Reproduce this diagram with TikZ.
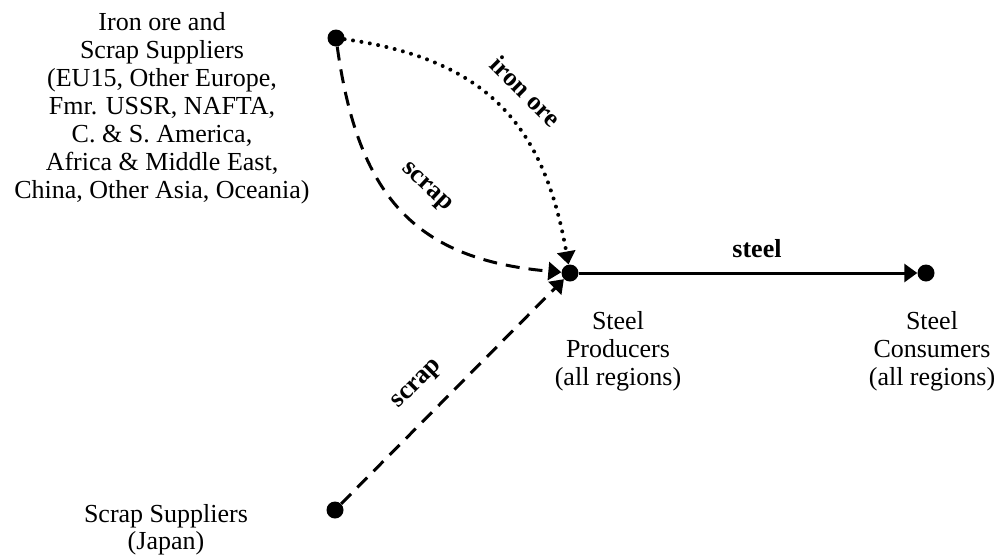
\documentclass[tikz,border=0pt]{standalone}
\usepackage{fontspec}
\setmainfont{Liberation Serif}
\usetikzlibrary{arrows.meta}
\begin{document}
\begin{tikzpicture}[x=1pt,y=1pt,
  dot/.style={circle,fill=black,inner sep=0pt,minimum size=17pt},
  lbl/.style={align=center,inner sep=0pt,font=\fontsize{26}{28}\selectfont},
  elbl/.style={inner sep=0pt,font=\fontsize{26}{28}\selectfont\bfseries},
  flow/.style={line width=3pt,-{Triangle[length=13pt,width=18pt]}},
  dashline/.style={flow,dash pattern=on 14pt off 9pt},
  dotline/.style={flow,line width=4pt,line cap=round,dash pattern=on 0pt off 8.5pt}]
\useasboundingbox (0,0) rectangle (1000,-555);
% points
\node[dot] (sup) at (336,-38) {};
\node[dot] (prod) at (570,-273) {};
\node[dot] (cons) at (926,-273) {};
\node[dot] (jap) at (335,-510) {};
% texts
\node[lbl,anchor=north] (suptxt) at (162,-12) {Iron ore and\\Scrap Suppliers\\(EU15, Other Europe,\\Fmr. USSR, NAFTA,\\C. \& S. America,\\Africa \& Middle East,\\China, Other Asia, Oceania)};
\node[lbl,anchor=north] (prodtxt) at (618,-311) {Steel\\Producers\\(all regions)};
\node[lbl,anchor=north] (constxt) at (932,-311) {Steel\\Consumers\\(all regions)};
\node[lbl,anchor=north,font=\fontsize{26}{27}\selectfont] (japtxt) at (166,-504) {Scrap Suppliers\\(Japan)};
% connectors
\draw[dotline] (sup) to[out=-8,in=100,looseness=1.15] (prod);
\draw[dashline] (sup) to[out=-82,in=175,looseness=1.2] (prod);
\draw[dashline] (jap) -- (prod);
\draw[flow] (prod) -- (cons);
% connector labels
\node[elbl,rotate=-45] (lore) at (526,-91) {iron ore};
\node[elbl,rotate=-43] (lscrapa) at (426,-188) {scrap};
\node[elbl,rotate=45] (lscrapb) at (418,-385) {scrap};
\node[elbl,anchor=base] (lsteel) at (757,-257) {steel};
\end{tikzpicture}
\end{document}
